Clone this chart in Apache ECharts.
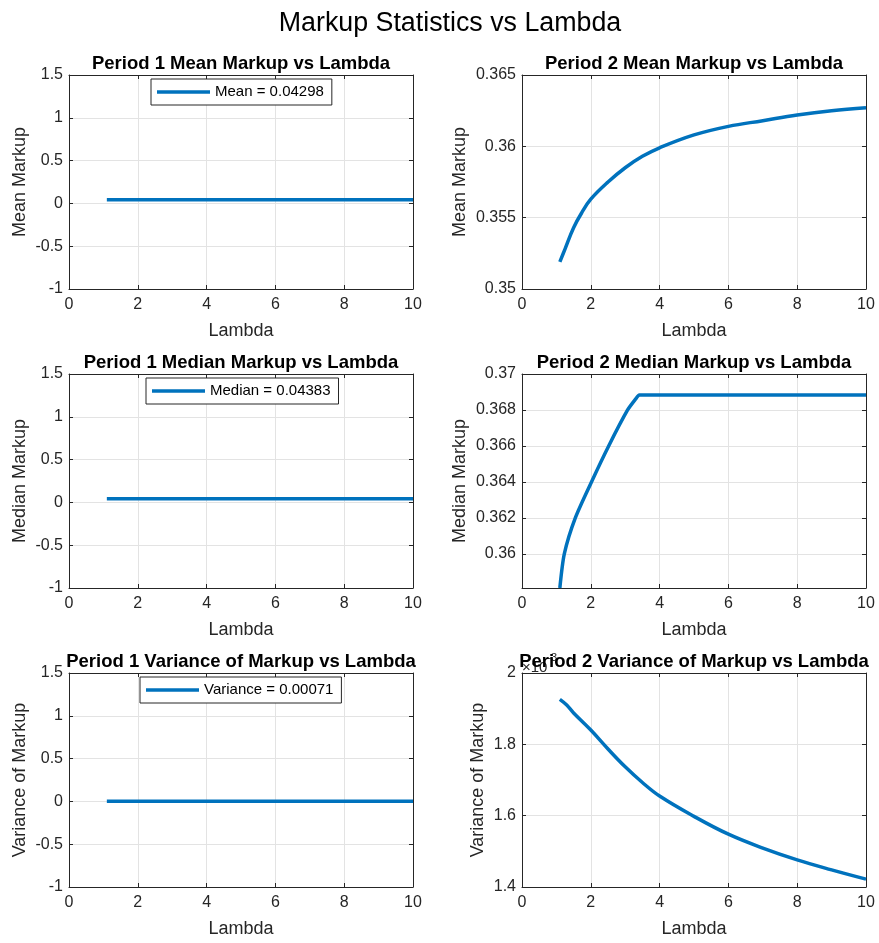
<!DOCTYPE html>
<html style="height: 100%">
<head>
    <meta charset="utf-8">
    <script src="https://cdn.jsdelivr.net/npm/echarts@6/dist/echarts.min.js"></script>
</head>
<body style="height: 100%; margin: 0; background: #fff">
    <div id="container" style="width: 879px; height: 943px"></div>
    <script type="text/javascript">
        // period 1 is flat over the whole lambda range
        var lambdaFlat = [1.1, 10];
        var p1Mean = [0.04298, 0.04298];
        var p1Median = [0.04383, 0.04383];
        var p1Variance = [0.00071, 0.00071];

        // period 2 mean
        var lambdaMean2 = [1.1, 1.25, 1.5, 1.75, 2, 2.5, 3, 3.5, 4, 5, 6, 7, 8, 9, 10];
        var p2Mean = [0.3519, 0.3528, 0.3543, 0.3554, 0.3563, 0.3575, 0.3585, 0.3593, 0.3599,
                      0.3608, 0.3614, 0.3618, 0.3622, 0.3625, 0.3627];

        // period 2 median (rises then flat)
        var lambdaMedian2 = [1.1, 1.23, 1.55, 2.02, 2.52, 3.07, 3.3, 3.41, 3.5, 6, 8, 10];
        var p2Median = [0.3581, 0.36, 0.362, 0.364, 0.366, 0.368, 0.3686, 0.36883,
                        0.36883, 0.36883, 0.36883, 0.36883];

        // period 2 variance, in units of 1e-3 (axis shows x10^-3)
        var lambdaVar2 = [1.1, 1.3, 1.5, 2, 2.5, 3, 3.5, 4, 5, 6, 7, 8, 9, 10];
        var p2VarianceE3 = [1.926, 1.91, 1.888, 1.84, 1.787, 1.737, 1.693,
                            1.655, 1.598, 1.548, 1.509, 1.476, 1.448, 1.422];

        var titles = [
            'Period 1 Mean Markup vs Lambda', 'Period 2 Mean Markup vs Lambda',
            'Period 1 Median Markup vs Lambda', 'Period 2 Median Markup vs Lambda',
            'Period 1 Variance of Markup vs Lambda', 'Period 2 Variance of Markup vs Lambda'
        ];
        var yNames = ['Mean Markup', 'Mean Markup', 'Median Markup', 'Median Markup',
                      'Variance of Markup', 'Variance of Markup'];
        var legendNames = ['Mean = 0.04298', 'Median = 0.04383', 'Variance = 0.00071'];

        function pair(xs, ys) {
            return ys.map(function (y, i) { return [xs[i], y]; });
        }

        var FONT = "'Liberation Sans', Arial, sans-serif";
        var INK = '#262626';
        var BLUE = '#0072BD';

        var colLeft = [69, 522];
        var rowTop = [75, 374, 673];
        var W = 344, H = 214;

        var yRanges = [
            { min: -1, max: 1.5, interval: 0.5 },
            { min: 0.35, max: 0.365, interval: 0.005 },
            { min: -1, max: 1.5, interval: 0.5 },
            { min: 0.3581, max: 0.37, splitNumber: 6 },
            { min: -1, max: 1.5, interval: 0.5 },
            { min: 1.4, max: 2, interval: 0.2 }
        ];
        var yGaps = [40, 53, 40, 53, 40, 35];
        var smoothing = [false, 0.4, false, 0.25, false, 0.4];
        var seriesData = [
            pair(lambdaFlat, p1Mean), pair(lambdaMean2, p2Mean),
            pair(lambdaFlat, p1Median), pair(lambdaMedian2, p2Median),
            pair(lambdaFlat, p1Variance), pair(lambdaVar2, p2VarianceE3)
        ];
        var seriesNames = [legendNames[0], 'p2mean', legendNames[1], 'p2median', legendNames[2], 'p2var'];

        var grids = [], xAxes = [], yAxes = [], seriesList = [], titleList = [], legendList = [];

        titleList.push({
            text: 'Markup Statistics vs Lambda',
            left: 450, top: 10, textAlign: 'center', padding: 0,
            textStyle: { fontFamily: FONT, fontSize: 26.8, fontWeight: 'normal', color: '#000' }
        });

        function boxLine() { return { show: true, onZero: false, lineStyle: { color: INK, width: 1 } }; }
        function tick() { return { show: true, inside: true, length: 4, lineStyle: { color: INK } }; }
        function gridLine() { return { show: true, lineStyle: { color: '#e3e3e3', width: 1 } }; }

        for (var i = 0; i < 6; i++) {
            var col = i % 2, row = Math.floor(i / 2);
            var cellLeft = colLeft[col], cellTop = rowTop[row];
            grids.push({ left: cellLeft, top: cellTop, width: W, height: H });

            titleList.push({
                text: titles[i],
                left: cellLeft + W / 2, top: cellTop - 21, textAlign: 'center', padding: 0, z: 10,
                textStyle: { fontFamily: FONT, fontSize: 18.5, fontWeight: 'bold', color: '#000' }
            });

            xAxes.push({
                type: 'value', gridIndex: i, position: 'bottom', min: 0, max: 10, interval: 2,
                name: 'Lambda', nameLocation: 'middle', nameGap: 33,
                nameTextStyle: { fontFamily: FONT, fontSize: 18, color: INK },
                axisLine: boxLine(), axisTick: tick(),
                axisLabel: { fontFamily: FONT, fontSize: 16, color: INK, margin: 8 },
                splitLine: gridLine()
            });
            xAxes.push({
                type: 'value', gridIndex: i, position: 'top', min: 0, max: 10, interval: 2,
                axisLine: boxLine(), axisTick: tick(),
                axisLabel: { show: false }, splitLine: { show: false }
            });

            var r = yRanges[i];
            var labelCfg = { fontFamily: FONT, fontSize: 16, color: INK, margin: 6 };
            if (i === 3) labelCfg.showMinLabel = false;

            var yMain = {
                type: 'value', gridIndex: i, position: 'left', min: r.min, max: r.max,
                name: yNames[i], nameLocation: 'middle', nameGap: yGaps[i], nameRotate: 90,
                nameTextStyle: { fontFamily: FONT, fontSize: 18, color: INK },
                axisLine: boxLine(), axisTick: tick(),
                axisLabel: labelCfg,
                splitLine: gridLine()
            };
            var ySide = {
                type: 'value', gridIndex: i, position: 'right', min: r.min, max: r.max,
                axisLine: boxLine(), axisTick: tick(),
                axisLabel: { show: false }, splitLine: { show: false }
            };
            if (r.interval) { yMain.interval = r.interval; ySide.interval = r.interval; }
            else { yMain.splitNumber = r.splitNumber; ySide.splitNumber = r.splitNumber; }
            yAxes.push(yMain);
            yAxes.push(ySide);

            seriesList.push({
                name: seriesNames[i], type: 'line',
                xAxisIndex: 2 * i, yAxisIndex: 2 * i,
                data: seriesData[i], showSymbol: false, symbol: 'none',
                smooth: smoothing[i],
                lineStyle: { color: BLUE, width: 3.5 },
                itemStyle: { color: BLUE }
            });
        }

        // legends of the period 1 panels (MATLAB 'north' location)
        var legendPos = [[151, 79], [146, 378], [140, 677]];
        for (var k = 0; k < 3; k++) {
            legendList.push({
                data: [legendNames[k]], left: legendPos[k][0], top: legendPos[k][1],
                icon: 'rect', itemWidth: 53, itemHeight: 3.5,
                padding: [5.5, 8, 5.5, 6],
                backgroundColor: '#fff', borderColor: INK, borderWidth: 1,
                textStyle: { fontFamily: FONT, fontSize: 15, color: '#000' },
                selectedMode: false
            });
        }

        var dom = document.getElementById("container");
        var myChart = echarts.init(dom);
        var option = {
            animation: false,
            backgroundColor: '#fff',
            title: titleList,
            legend: legendList,
            grid: grids,
            xAxis: xAxes,
            yAxis: yAxes,
            series: seriesList,
            graphic: [{
                type: 'text', left: 522, top: 652, z: 0,
                style: {
                    text: '{a|×10}{b|-3}',
                    rich: {
                        a: { fontFamily: FONT, fontSize: 15, fill: INK, padding: [8, 0, 0, 0] },
                        b: { fontFamily: FONT, fontSize: 11, fill: INK, verticalAlign: 'top' }
                    }
                }
            }]
        };
        myChart.setOption(option, true);
    </script>
</body>
</html>
